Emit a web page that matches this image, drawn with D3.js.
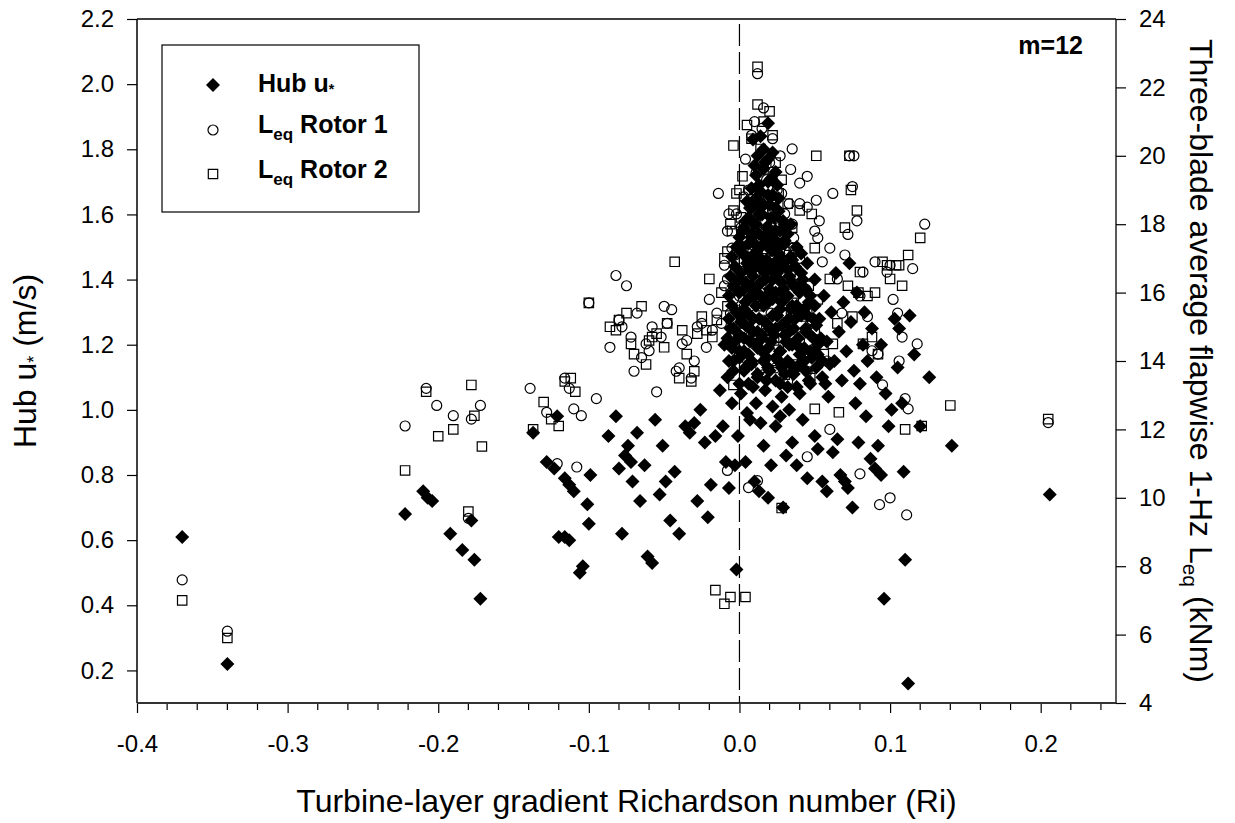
<!DOCTYPE html>
<html>
<head>
<meta charset="utf-8">
<script src="https://cdn.jsdelivr.net/npm/d3@7"></script>
<style>
  body { margin: 0; background: #fff; }
  svg { font-family: 'Liberation Sans', Arial, sans-serif; }
</style>
</head>
<body>
<div id="chart"></div>
<script>
// Ri vs hub u* (left axis, m/s)
const hubUstar = [
  [-0.370,0.61],[-0.340,0.22],[-0.222,0.68],[-0.210,0.75],[-0.207,0.73],[-0.204,0.72],[-0.192,0.62],[-0.184,0.57],
  [-0.178,0.66],[-0.176,0.54],[-0.172,0.42],[-0.137,0.93],[-0.128,0.84],[-0.123,0.82],[-0.121,0.98],[-0.120,0.61],
  [-0.116,0.61],[-0.113,0.60],[-0.116,0.79],[-0.113,0.77],[-0.110,0.75],[-0.106,0.50],[-0.104,0.52],[-0.101,0.71],
  [-0.099,0.80],[-0.100,0.65],[-0.087,0.92],[-0.082,0.98],[-0.080,0.82],[-0.078,0.62],[-0.076,0.86],[-0.074,0.89],
  [-0.072,0.84],[-0.071,0.78],[-0.068,0.93],[-0.066,0.72],[-0.063,0.83],[-0.061,0.55],[-0.058,0.53],[-0.056,0.97],
  [-0.053,0.74],[-0.051,0.89],[-0.049,0.78],[-0.046,0.66],[-0.043,0.81],[-0.040,0.62],[-0.036,0.95],[-0.033,0.93],
  [-0.030,0.96],[-0.028,0.72],[-0.026,1.00],[-0.023,0.90],[-0.021,0.67],[-0.019,0.77],[-0.016,0.92],[-0.013,1.06],
  [-0.011,0.95],[-0.009,0.84],[-0.007,0.76],[-0.005,1.02],[-0.003,0.83],[-0.002,0.51],[-0.001,0.92],
  [0.004,0.84],[0.007,0.97],[0.010,0.78],[0.013,0.75],[0.016,0.89],[0.019,0.73],[0.021,0.83],[0.024,0.95],
  [0.027,0.98],[0.029,0.70],[0.031,0.86],[0.033,1.00],[0.035,0.90],[0.038,0.83],[0.040,1.05],[0.042,0.97],
  [0.045,0.79],[0.047,1.18],[0.050,0.92],[0.052,0.88],[0.055,0.78],[0.058,0.75],[0.060,1.14],[0.062,0.87],
  [0.065,0.91],[0.067,0.80],[0.070,0.78],[0.072,0.76],[0.075,0.70],[0.077,1.02],[0.079,0.90],[0.082,1.20],
  [0.084,0.98],[0.087,0.85],[0.090,0.82],[0.092,0.89],[0.094,0.80],[0.096,0.42],[0.099,0.95],[0.101,1.00],
  [0.103,1.28],[0.106,1.25],[0.108,1.02],[0.109,0.81],[0.110,0.54],[0.112,0.16],[0.113,1.29],[0.116,1.17],
  [0.120,0.95],[0.126,1.10],[0.141,0.89],[0.206,0.74],
  [0.036,1.12],[0.038,1.20],[0.040,1.30],[0.041,1.38],[0.043,1.15],[0.044,1.25],[0.046,1.33],[0.047,1.08],
  [0.049,1.22],[0.050,1.40],[0.052,1.17],[0.053,1.28],[0.055,1.10],[0.056,1.35],[0.058,1.21],[0.059,1.04],
  [0.061,1.30],[0.063,1.15],[0.064,1.42],[0.066,1.24],[0.068,1.09],[0.069,1.33],[0.071,1.18],[0.073,1.45],
  [0.074,1.27],[0.076,1.12],[0.078,1.36],[0.080,1.08],[0.083,1.30],[0.085,1.15],[0.088,1.25],[0.091,1.10],
  [0.094,1.20],[0.097,1.05],[0.105,1.13],
  [0.001,1.05],[0.003,1.12],[0.005,0.99],[0.006,1.08],[0.008,1.15],[0.011,1.02],[0.012,1.10],[0.014,0.96],
  [0.017,1.06],[0.019,1.13],[0.022,1.01],[0.024,1.09],[0.026,1.15],[0.028,1.04],[0.030,1.11],[0.032,1.07],
  [0.034,1.14],[-0.008,1.10],[-0.004,1.15],[-0.010,1.20],[-0.006,1.25],
  [0.000,1.18],[0.003,1.22],[0.006,1.17],[0.009,1.24],[0.012,1.19],[0.015,1.23],[0.018,1.16],[0.021,1.21],
  [0.024,1.25],[0.027,1.18],[0.030,1.23],[0.033,1.20],[-0.003,1.21],
  [-0.002,1.30],[0.001,1.27],[0.004,1.33],[0.007,1.29],[0.010,1.35],[0.013,1.28],[0.016,1.32],[0.019,1.26],
  [0.022,1.34],[0.025,1.29],[0.028,1.33],[0.031,1.27],[0.034,1.31],[0.037,1.28],
  [0.000,1.40],[0.003,1.37],[0.006,1.43],[0.008,1.38],[0.011,1.44],[0.014,1.39],[0.017,1.42],[0.020,1.36],
  [0.023,1.45],[0.026,1.40],[0.029,1.37],[0.032,1.43],[0.035,1.39],
  [0.002,1.50],[0.005,1.47],[0.008,1.53],[0.010,1.48],[0.013,1.54],[0.015,1.46],[0.018,1.51],[0.021,1.49],
  [0.024,1.55],[0.027,1.47],[0.030,1.52],
  [0.004,1.58],[0.007,1.62],[0.010,1.57],[0.012,1.64],[0.015,1.60],[0.018,1.56],[0.020,1.63],[0.023,1.59],[0.026,1.61],
  [0.008,1.68],[0.011,1.72],[0.014,1.67],[0.016,1.74],[0.019,1.70],[0.022,1.66],[0.024,1.73],
  [0.012,1.78],[0.016,1.80],[0.019,1.77],[0.014,1.84],[0.019,1.88],[0.009,1.83],[0.022,1.79],
  // dense core
  [0.000,1.08],[0.009,1.07],[0.018,1.09],[0.027,1.08],[0.038,1.07],[0.046,1.09],[0.057,1.08],
  [-0.004,1.12],[0.004,1.13],[0.012,1.11],[0.020,1.12],[0.028,1.13],[0.036,1.11],[0.044,1.12],[0.051,1.13],
  [-0.007,1.15],[0.000,1.16],[0.008,1.14],[0.016,1.15],[0.024,1.16],[0.032,1.15],[0.040,1.14],[0.048,1.16],[0.055,1.15],
  [-0.005,1.19],[0.003,1.18],[0.011,1.20],[0.019,1.19],[0.027,1.18],[0.035,1.20],[0.043,1.19],[0.050,1.18],
  [-0.008,1.22],[0.000,1.23],[0.007,1.21],[0.015,1.22],[0.023,1.23],[0.031,1.21],[0.039,1.22],[0.047,1.23],[0.054,1.22],
  [-0.004,1.25],[0.004,1.26],[0.012,1.24],[0.020,1.25],[0.028,1.26],[0.036,1.25],[0.044,1.24],[0.051,1.26],
  [-0.007,1.28],[0.001,1.29],[0.009,1.28],[0.017,1.27],[0.025,1.29],[0.033,1.28],[0.041,1.29],[0.049,1.28],
  [-0.005,1.32],[0.003,1.31],[0.011,1.32],[0.019,1.33],[0.027,1.31],[0.035,1.32],[0.043,1.31],[0.050,1.32],
  [-0.007,1.35],[0.000,1.36],[0.008,1.35],[0.016,1.34],[0.024,1.36],[0.032,1.35],[0.040,1.36],[0.047,1.35],
  [-0.004,1.38],[0.004,1.39],[0.012,1.38],[0.020,1.37],[0.028,1.39],[0.036,1.38],[0.044,1.37],
  [-0.006,1.41],[0.001,1.42],[0.009,1.41],[0.017,1.40],[0.025,1.42],[0.033,1.41],[0.041,1.42],
  [-0.003,1.44],[0.005,1.45],[0.013,1.44],[0.021,1.43],[0.029,1.45],[0.037,1.44],[0.045,1.45],
  [-0.005,1.47],[0.002,1.48],[0.010,1.47],[0.018,1.46],[0.026,1.48],[0.034,1.47],[0.041,1.48],
  [-0.002,1.50],[0.006,1.51],[0.014,1.50],[0.022,1.49],[0.030,1.51],[0.038,1.50],
  [0.000,1.53],[0.008,1.54],[0.016,1.53],[0.024,1.52],[0.032,1.54],
  [0.003,1.56],[0.011,1.57],[0.019,1.56],[0.027,1.55],[0.034,1.57],
  [0.006,1.59],[0.013,1.60],[0.021,1.59],[0.029,1.58],
  [0.008,1.62],[0.016,1.63],[0.024,1.62],
  [0.011,1.65],[0.019,1.66],[0.026,1.65],
  [0.005,1.64],[0.013,1.69],[0.021,1.71],[0.017,1.76],[0.010,1.75],[0.025,1.69],[0.014,1.62],[0.002,1.55],
  [0.030,1.57],[0.020,1.53],[0.028,1.44],[0.006,1.34],[0.045,1.29],[0.052,1.20],[0.040,1.17],[0.014,1.35],
  [0.022,1.29],[0.030,1.35],[0.007,1.25],[0.015,1.18],[0.033,1.24],[0.038,1.32],[-0.002,1.37],[0.018,1.44],
  [0.010,1.51],[0.026,1.50],[0.022,1.40],[0.006,1.46],[0.035,1.46],[0.042,1.40]
]

// Ri vs Leq rotor 1 (right axis, kNm)
const leqRotor1 = [
  [-0.370,7.6],[-0.340,6.1],[-0.222,12.1],[-0.208,13.2],[-0.201,12.7],[-0.190,12.4],[-0.180,9.4],[-0.178,12.3],
  [-0.172,12.7],[-0.139,13.2],[-0.128,12.5],[-0.121,11.0],[-0.116,13.5],[-0.113,13.2],[-0.110,12.6],[-0.108,10.9],
  [-0.105,12.4],[-0.100,15.7],[-0.095,12.9],[-0.086,14.4],[-0.082,16.5],[-0.080,15.2],[-0.078,15.0],[-0.075,16.2],
  [-0.072,14.7],[-0.070,13.7],[-0.068,15.4],[-0.065,14.1],[-0.062,14.5],[-0.060,14.3],[-0.058,15.0],[-0.055,13.1],
  [-0.052,14.7],[-0.050,15.6],[-0.048,15.1],[-0.045,15.5],[-0.042,13.7],[-0.040,13.8],[-0.038,14.5],[-0.035,14.6],
  [-0.032,13.5],[-0.030,14.0],[-0.028,15.0],[-0.025,15.1],[-0.022,14.4],[-0.020,15.8],[-0.018,14.9],[-0.015,15.4],
  [-0.012,15.1],[-0.010,16.2],[-0.008,16.4],[-0.006,15.4],[-0.005,17.3],[-0.003,16.6],[-0.008,10.8],[0.006,10.3],
  [0.012,10.5],[0.000,15.9],[-0.014,18.9],[-0.007,18.3],
  [0.035,20.2],[0.040,19.2],[0.045,18.5],[0.050,17.8],[0.052,17.6],[0.055,16.9],[0.060,17.3],[0.062,18.9],
  [0.065,16.4],[0.068,15.4],[0.070,17.1],[0.072,17.7],[0.076,20.0],[0.075,19.1],[0.078,18.1],[0.080,15.9],
  [0.082,16.6],[0.085,15.3],[0.088,14.3],[0.090,16.9],[0.092,14.2],[0.095,13.3],[0.098,16.6],[0.100,16.8],
  [0.102,15.8],[0.105,15.4],[0.106,14.0],[0.108,14.7],[0.110,12.9],[0.112,12.6],[0.115,16.7],[0.118,14.5],
  [0.123,18.0],[0.205,12.2],[0.111,9.5],[0.100,10.0],[0.093,9.8],[0.080,10.7],[0.045,11.2],[0.060,12.0],
  [0.012,22.4],[0.016,21.4],[0.022,20.5],[0.015,20.8],[0.010,21.0],[0.008,20.6],[0.027,20.0],[0.034,19.6],
  [0.004,19.9],[0.045,19.4],[0.051,18.7],[0.053,18.1],[0.073,20.0],
  [0.006,19.0],[0.018,19.3],[0.028,18.9],[0.033,18.6],[-0.002,18.3],[0.009,18.5],[0.015,18.1],[0.022,18.4],
  [0.026,17.9],[0.036,17.6],[-0.008,17.8],[0.002,17.5],[0.012,17.2],[0.019,17.6],[0.031,17.2],[0.040,17.0],
  [-0.010,16.8],[0.004,16.6],[0.010,16.9],[0.016,16.4],[0.024,16.7],[0.034,16.3],[0.044,16.1],[-0.004,15.8],
  [0.007,15.6],[0.014,16.0],[0.021,15.4],[0.029,15.8],[0.038,15.5],[0.048,15.2],[0.002,14.9],[0.011,14.6],
  [0.018,15.0],[0.026,14.4],[0.035,14.8],[0.042,14.3],[0.052,14.6],[0.006,13.9],[0.016,13.6],[0.024,13.8],
  [0.032,13.4],[0.045,13.7],[0.058,14.0],[0.000,14.2],
  [0.003,18.8],[0.011,19.5],[0.020,19.8],[0.025,19.0],[0.030,18.3],[0.014,18.9],[0.007,18.0],[0.018,18.6],
  [0.024,18.0],[0.001,17.9],[0.035,18.0],[0.040,18.6],[-0.003,17.1],[0.009,17.4],[0.028,17.6]
]

// Ri vs Leq rotor 2 (right axis, kNm)
const leqRotor2 = [
  [-0.370,7.0],[-0.340,5.9],[-0.222,10.8],[-0.208,13.1],[-0.200,11.8],[-0.190,12.0],[-0.180,9.6],[-0.178,13.3],
  [-0.176,12.4],[-0.171,11.5],[-0.137,12.0],[-0.130,12.8],[-0.125,12.3],[-0.120,12.1],[-0.116,13.4],[-0.112,13.5],
  [-0.109,13.1],[-0.100,15.7],[-0.086,15.0],[-0.082,14.9],[-0.080,15.2],[-0.075,15.4],[-0.072,14.5],[-0.070,14.2],
  [-0.065,15.6],[-0.062,13.9],[-0.060,14.6],[-0.058,14.7],[-0.055,14.8],[-0.050,14.4],[-0.048,15.1],[-0.043,16.9],
  [-0.040,13.5],[-0.038,14.9],[-0.035,14.2],[-0.032,13.4],[-0.030,13.7],[-0.028,14.8],[-0.025,15.3],[-0.022,14.9],
  [-0.020,16.4],[-0.018,14.7],[-0.015,15.2],[-0.012,16.0],[-0.010,17.0],[-0.008,15.6],[-0.005,17.8],[-0.004,18.4],
  [-0.002,18.9],[-0.016,7.3],[-0.010,6.9],[-0.006,7.1],[0.004,7.1],[0.028,9.7],
  [0.033,17.1],[0.051,20.0],[0.045,15.4],[0.050,17.3],[0.060,16.4],[0.065,15.1],[0.070,17.9],[0.072,16.2],
  [0.075,15.3],[0.078,18.4],[0.079,16.0],[0.080,16.6],[0.082,14.5],[0.085,15.9],[0.088,14.7],[0.090,16.0],
  [0.092,14.2],[0.095,16.9],[0.098,16.8],[0.100,16.4],[0.104,16.8],[0.106,16.8],[0.108,16.2],[0.110,12.0],
  [0.112,17.1],[0.120,17.6],[0.121,12.1],[0.140,12.7],[0.205,12.3],[0.074,19.0],[0.062,14.5],[0.050,12.6],
  [0.066,12.5],[0.073,20.0],[0.048,18.3],
  [0.012,22.6],[0.012,21.5],[0.020,21.3],[0.005,20.9],[0.016,21.0],[0.022,20.6],[-0.004,20.3],[0.008,20.5],
  [0.014,20.2],[0.024,19.8],[0.028,19.3],[0.000,19.0],[0.002,19.4],[0.010,19.0],[0.018,18.8],[0.032,18.6],
  [0.040,18.4],[-0.006,18.0],[0.006,17.9],[0.013,17.6],[0.021,17.9],[0.027,17.4],[0.036,17.3],[-0.008,17.2],
  [0.003,16.9],[0.010,16.6],[0.017,17.0],[0.024,16.5],[0.031,16.8],[0.040,16.4],[0.046,16.2],[-0.003,16.2],
  [0.006,15.9],[0.013,15.6],[0.020,16.0],[0.028,15.4],[0.036,15.7],[0.043,15.3],[0.052,15.8],[0.001,15.1],
  [0.009,14.8],[0.016,15.2],[0.023,14.6],[0.032,14.9],[0.040,14.5],[0.050,14.9],[0.056,14.2],[0.005,14.1],
  [0.014,13.8],[0.021,14.0],[0.030,13.6],[0.038,13.9],[0.047,13.5],[-0.004,13.3],
  [0.007,18.6],[0.016,19.6],[0.022,18.3],[0.026,18.9],[0.001,18.2],[0.035,17.9],[0.011,18.1],[0.019,17.4]
]

const xTicks = [-0.4, -0.3, -0.2, -0.1, 0.0, 0.1, 0.2]
const yLeftTicks = [0.2, 0.4, 0.6, 0.8, 1.0, 1.2, 1.4, 1.6, 1.8, 2.0, 2.2]
const yRightTicks = [4, 6, 8, 10, 12, 14, 16, 18, 20, 22, 24]

const W = 1235, H = 823
const ml = 137, mr = 1116, mt = 19, mb = 703
const font = "'Liberation Sans', Arial, sans-serif"

const svg = d3.select('#chart').append('svg')
  .attr('width', W).attr('height', H)

const x = d3.scaleLinear().domain([-0.4, 0.25]).range([ml, mr])
const yL = d3.scaleLinear().domain([0.1, 2.2]).range([mb, mt])
const yR = d3.scaleLinear().domain([4, 24]).range([mb, mt])

// minor ticks every 0.02 on x
const xMinor = d3.range(-0.38, 0.25, 0.02).map(d => Math.round(d * 100) / 100)
  .filter(d => Math.abs(Math.round(d * 10) - d * 10) > 1e-6)

// axes
const gx = svg.append('g').attr('transform', `translate(0,${mb})`)
gx.call(d3.axisBottom(x).tickValues(xTicks).tickSize(10).tickSizeOuter(0).tickPadding(22)
  .tickFormat(d => d.toFixed(1)))
gx.append('g').selectAll('line').data(xMinor).join('line')
  .attr('x1', d => x(d)).attr('x2', d => x(d)).attr('y1', 0).attr('y2', 7)
  .attr('stroke', '#000').attr('stroke-width', 1.2)

const gyl = svg.append('g').attr('transform', `translate(${ml},0)`)
gyl.call(d3.axisLeft(yL).tickValues(yLeftTicks).tickSize(10).tickSizeOuter(0).tickPadding(13)
  .tickFormat(d => d.toFixed(1)))

const gyr = svg.append('g').attr('transform', `translate(${mr},0)`)
gyr.call(d3.axisRight(yR).tickValues(yRightTicks).tickSize(10).tickSizeOuter(0).tickPadding(13)
  .tickFormat(d3.format('d')))

svg.selectAll('.domain').remove()
svg.selectAll('.tick line').attr('stroke', '#000').attr('stroke-width', 1.2)
svg.selectAll('.tick text').attr('font-size', 24).attr('font-family', font).attr('fill', '#000')

// frame
svg.append('line').attr('x1', ml).attr('x2', mr).attr('y1', mt).attr('y2', mt)
  .attr('stroke', '#000').attr('stroke-width', 1.3)
svg.append('line').attr('x1', ml).attr('x2', ml).attr('y1', mt).attr('y2', mb)
  .attr('stroke', '#000').attr('stroke-width', 1.5)
svg.append('line').attr('x1', mr).attr('x2', mr).attr('y1', mt).attr('y2', mb)
  .attr('stroke', '#000').attr('stroke-width', 1.3)
svg.append('line').attr('x1', ml).attr('x2', mr).attr('y1', mb).attr('y2', mb)
  .attr('stroke', '#333').attr('stroke-width', 2)

// Ri = 0 reference line
svg.append('line').attr('x1', x(0)).attr('x2', x(0)).attr('y1', mt + 5).attr('y2', mb)
  .attr('stroke', '#000').attr('stroke-width', 1.2).attr('stroke-dasharray', '22,6')

// markers
const diamond = d3.symbol(d3.symbolSquare, 98)
const square = d3.symbol(d3.symbolSquare, 88)

const plot = svg.append('g')
plot.selectAll('.hub').data(hubUstar).join('path')
  .attr('class', 'hub')
  .attr('d', diamond)
  .attr('transform', d => `translate(${x(d[0])},${yL(d[1])}) rotate(45)`)
  .attr('fill', '#000')

plot.selectAll('.r1').data(leqRotor1).join('circle')
  .attr('class', 'r1')
  .attr('cx', d => x(d[0])).attr('cy', d => yR(d[1])).attr('r', 5)
  .attr('fill', 'none').attr('stroke', '#000').attr('stroke-width', 1.2)

plot.selectAll('.r2').data(leqRotor2).join('path')
  .attr('class', 'r2')
  .attr('d', square)
  .attr('transform', d => `translate(${x(d[0])},${yR(d[1])})`)
  .attr('fill', 'none').attr('stroke', '#000').attr('stroke-width', 1.2)

// axis titles
svg.append('text').attr('x', (ml + mr) / 2).attr('y', 812)
  .attr('text-anchor', 'middle').attr('font-size', 32).attr('font-family', font)
  .text('Turbine-layer gradient Richardson number (Ri)')

const lt = svg.append('text')
  .attr('transform', `translate(36,${(mt + mb) / 2}) rotate(-90)`)
  .attr('text-anchor', 'middle').attr('font-size', 32).attr('font-family', font)
lt.append('tspan').text('Hub u')
lt.append('tspan').attr('font-size', 18).attr('dy', 4).text('*')
lt.append('tspan').attr('dy', -4).text(' (m/s)')

const rt = svg.append('text')
  .attr('transform', `translate(1190,${(mt + mb) / 2}) rotate(90)`)
  .attr('text-anchor', 'middle').attr('font-size', 32).attr('font-family', font)
rt.append('tspan').text('Three-blade average flapwise 1-Hz L')
rt.append('tspan').attr('font-size', 21).attr('dy', 7).text('eq')
rt.append('tspan').attr('dy', -7).text(' (kNm)')

// legend
const lg = svg.append('g')
lg.append('rect').attr('x', 162).attr('y', 45).attr('width', 257).attr('height', 167)
  .attr('fill', '#fff').attr('stroke', '#000').attr('stroke-width', 1.2)

const rows = [85, 130, 174]
lg.append('path').attr('d', diamond)
  .attr('transform', `translate(213,${rows[0]}) rotate(45)`).attr('fill', '#000')
lg.append('circle').attr('cx', 213).attr('cy', rows[1]).attr('r', 5)
  .attr('fill', 'none').attr('stroke', '#000').attr('stroke-width', 1.2)
lg.append('path').attr('d', square).attr('transform', `translate(213,${rows[2]})`)
  .attr('fill', 'none').attr('stroke', '#000').attr('stroke-width', 1.2)

const t1 = lg.append('text').attr('x', 258).attr('y', 92)
  .attr('font-size', 25).attr('font-weight', 'bold').attr('font-family', font)
t1.append('tspan').text('Hub u')
t1.append('tspan').attr('font-size', 14).attr('dy', 2).text('*')

;[['Rotor 1', 133], ['Rotor 2', 178]].forEach(([lab, y]) => {
  const t = lg.append('text').attr('x', 258).attr('y', y)
    .attr('font-size', 25).attr('font-weight', 'bold').attr('font-family', font)
  t.append('tspan').text('L')
  t.append('tspan').attr('font-size', 17).attr('dy', 7).text('eq')
  t.append('tspan').attr('dy', -7).text(' ' + lab)
})

svg.append('text').attr('x', 1083).attr('y', 54).attr('text-anchor', 'end')
  .attr('font-size', 25).attr('font-weight', 'bold').attr('font-family', font)
  .text('m=12')
</script>
</body>
</html>
